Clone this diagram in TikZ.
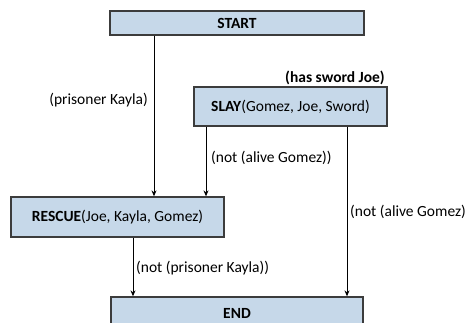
\documentclass[tikz,border=0pt]{standalone}
\usepackage{fontspec}
\setmainfont{Carlito}
\usetikzlibrary{arrows.meta}
\definecolor{boxfill}{RGB}{198,216,233}
\definecolor{boxline}{RGB}{60,60,60}
\tikzset{
  stbox/.style={draw=boxline, line width=1.3pt, fill=boxfill, inner sep=0pt, font=\fontsize{15.5}{18}\selectfont},
  conn/.style={line width=1pt, -{Stealth[length=6pt,width=5pt]}},
  lbl/.style={inner sep=0pt, font=\fontsize{15.5}{18}\selectfont}
}
\begin{document}
\begin{tikzpicture}[x=1pt,y=-1pt]
\useasboundingbox (0,0) rectangle (472,322);
\clip (0,0) rectangle (472,322);
\node[stbox, minimum width=254pt, minimum height=24pt] (start) at (237,23) {\textbf{START}};
\node[stbox, minimum width=193pt, minimum height=39pt] (slay) at (290.5,106.5) {\textbf{SLAY}(Gomez, Joe, Sword)};
\node[stbox, minimum width=213pt, minimum height=40pt] (rescue) at (117.5,217) {\textbf{RESCUE}(Joe, Kayla, Gomez)};
\node[stbox, minimum width=252pt, minimum height=32pt] (end) at (237,313) {\textbf{END}};
\node[lbl, anchor=east] (has) at (385,78) {\textbf{(has sword Joe)}};
\draw[conn] (start.south -| 154,0) -- (rescue.north -| 154,0);
\draw[conn] (slay.south -| 206,0) -- (rescue.north -| 206,0);
\draw[conn] (slay.south -| 347,0) -- (end.north -| 347,0);
\draw[conn] (rescue.south -| 133,0) -- (end.north -| 133,0);
\node[lbl, anchor=east] (l1) at (148,100) {(prisoner Kayla)};
\node[lbl, anchor=west] (l2) at (211,158) {(not (alive Gomez))};
\node[lbl, anchor=west] (l3) at (350,212) {(not (alive Gomez)};
\node[lbl, anchor=west] (l4) at (136,268) {(not (prisoner Kayla))};
\end{tikzpicture}
\end{document}
